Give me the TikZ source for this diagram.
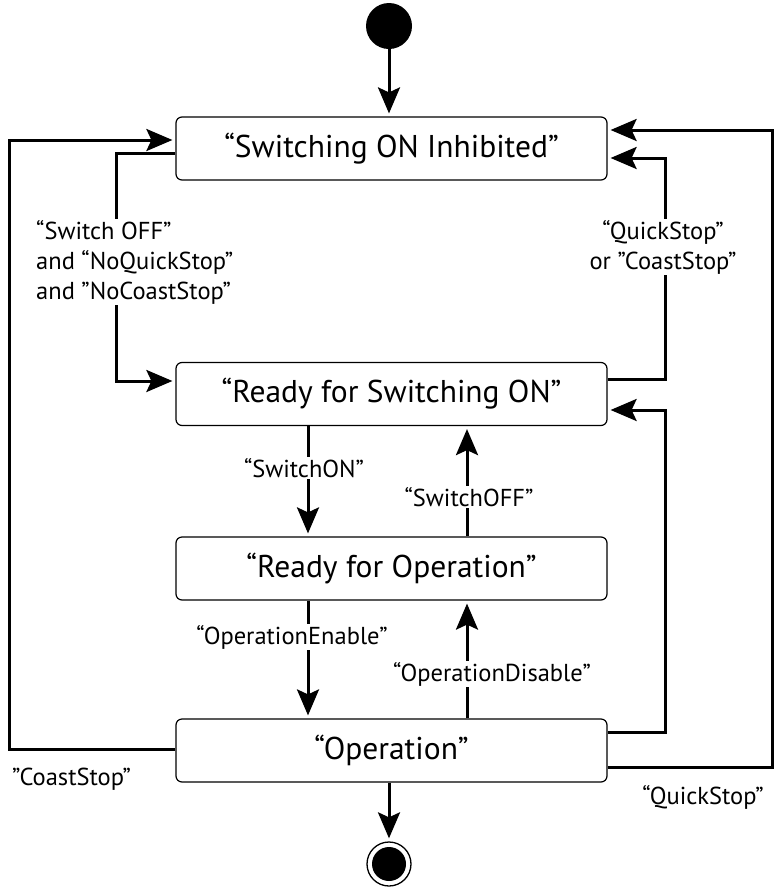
\documentclass[tikz,border=0pt]{standalone}
\usepackage{fontspec}
\setmainfont{PT Sans}
\usetikzlibrary{arrows.meta}
\begin{document}
\begin{tikzpicture}[x=1pt,y=-1pt,
  state/.style={draw, rounded corners=6pt, line width=1.2pt, minimum width=431pt, minimum height=63pt, inner sep=0pt, font=\fontsize{31.5}{36}\selectfont},
  tr/.style={line width=3pt, -{Stealth[length=26pt,width=22pt,inset=5pt]}, shorten >=3pt},
  lbl/.style={font=\fontsize{24.5}{30}\selectfont, fill=white, inner sep=1pt}
]
\path[use as bounding box, fill=white] (0,0) rectangle (775,887);

\node[state] (b1) at (391.5,148.5) {“Switching ON Inhibited”};
\node[state] (b2) at (391.5,394) {“Ready for Switching ON”};
\node[state] (b3) at (391.5,568.5) {“Ready for Operation”};
\node[state] (b4) at (391.5,750.5) {“Operation”};

\node[circle, fill=black, minimum size=46pt, inner sep=0pt] (ini) at (389,26) {};
\node[circle, draw, line width=1.3pt, minimum size=44pt, inner sep=0pt] (fin) at (389,864) {};
\fill (fin.center) circle (17pt);

% initial and final
\draw[tr] (ini) -- (ini |- b1.north);
\draw[tr] (b4.south -| ini) -- (fin);

% central transitions
\coordinate (cL) at (308,0);
\coordinate (cR) at (467,0);
\draw[tr] (b2.south -| cL) -- (b3.north -| cL);
\draw[tr] (b3.north -| cR) -- (b2.south -| cR);
\draw[tr] (b3.south -| cL) -- (b4.north -| cL);
\draw[tr] (b4.north -| cR) -- (b3.south -| cR);
\node[lbl] (l1) at (304,468) {“SwitchON”};
\node[lbl] (l2) at (469,497) {“SwitchOFF”};
\node[lbl] (l3) at (292,637) {“OperationEnable”};
\node[lbl] (l4) at (492,674) {“OperationDisable”};

% left outer: Operation -> Switching ON Inhibited
\coordinate (b1inL) at ([yshift=8.5pt]b1.west);
\draw[tr] ([yshift=1.5pt]b4.west) -| ([xshift=-166pt]b1inL) -- (b1inL);
\node[lbl, anchor=west] (l5) at (11,779) {”CoastStop”};

% inner left: Switching ON Inhibited -> Ready for Switching ON
\coordinate (b2inL) at ([yshift=13pt]b2.west);
\draw[tr] ([yshift=-4.5pt]b1.west) -| ([xshift=-59pt]b2inL) -- (b2inL);
\node[lbl, anchor=west, align=left] (l6) at (35,262) {“Switch OFF”\\and “NoQuickStop”\\and ”NoCoastStop”};

% right: Ready for Switching ON -> Switching ON Inhibited
\coordinate (b1inR) at ([yshift=-9.5pt]b1.east);
\draw[tr] ([yshift=15pt]b2.east) -| ([xshift=58pt]b1inR) -- (b1inR);
\node[lbl, align=center] (l7) at (663,247) {“QuickStop”\\or ”CoastStop”};

% right outer: Operation -> Switching ON Inhibited
\coordinate (b1inR2) at ([yshift=18.5pt]b1.east);
\draw[tr] ([yshift=-16.5pt]b4.east) -| ([xshift=165pt]b1inR2) -- (b1inR2);
\node[lbl] (l8) at (703,797) {“QuickStop”};

% middle right: Operation -> Ready for Switching ON
\coordinate (b2inR) at ([yshift=-16pt]b2.east);
\draw[tr] ([yshift=18.5pt]b4.east) -| ([xshift=58pt]b2inR) -- (b2inR);
\end{tikzpicture}
\end{document}
